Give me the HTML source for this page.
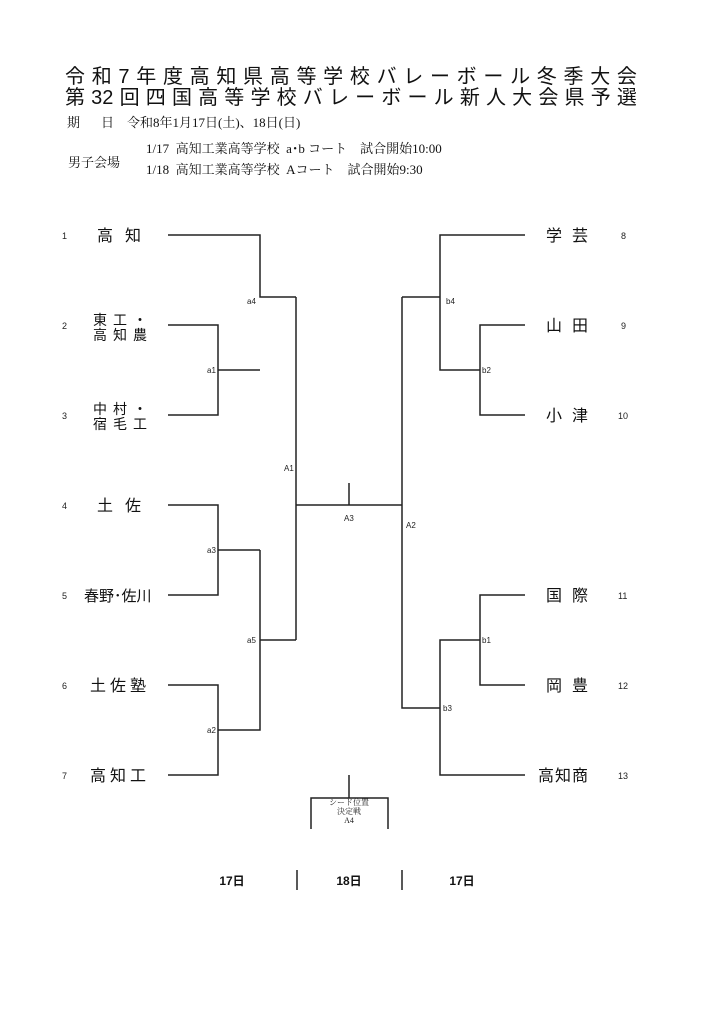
<!DOCTYPE html>
<html><head><meta charset="utf-8"><style>
body{margin:0;background:#fff;width:724px;height:1024px;position:relative;overflow:hidden;font-family:"Liberation Sans","Noto Sans CJK JP",sans-serif;color:#111}
.t{position:absolute;left:65px;width:572px;display:flex;justify-content:space-between;font-size:20px;line-height:22px;font-family:"Liberation Sans","Noto Sans CJK JP",sans-serif}
.s{position:absolute;font-family:"Liberation Serif","Noto Serif CJK SC",serif;font-size:13px;white-space:nowrap;line-height:15px}
</style></head><body>
<div class="t" style="top:66px"><span>令</span><span>和</span><span>7</span><span>年</span><span>度</span><span>高</span><span>知</span><span>県</span><span>高</span><span>等</span><span>学</span><span>校</span><span>バ</span><span>レ</span><span>ー</span><span>ボ</span><span>ー</span><span>ル</span><span>冬</span><span>季</span><span>大</span><span>会</span></div>
<div class="t" style="top:87px"><span>第</span><span>32</span><span>回</span><span>四</span><span>国</span><span>高</span><span>等</span><span>学</span><span>校</span><span>バ</span><span>レ</span><span>ー</span><span>ボ</span><span>ー</span><span>ル</span><span>新</span><span>人</span><span>大</span><span>会</span><span>県</span><span>予</span><span>選</span></div>
<div class="s" style="left:67px;top:115px">期</div>
<div class="s" style="left:101px;top:115px">日</div>
<div class="s" style="left:127px;top:115px">令和8年1月17日(土)、18日(日)</div>
<div class="s" style="left:68px;top:155px">男子会場</div>
<div class="s" style="left:146px;top:141px">1/17&nbsp; 高知工業高等学校&nbsp; a･b コート&nbsp;&nbsp;&nbsp; 試合開始10:00</div>
<div class="s" style="left:146px;top:162px">1/18&nbsp; 高知工業高等学校&nbsp; Aコート&nbsp;&nbsp;&nbsp; 試合開始9:30</div>
<svg width="724" height="1024" style="position:absolute;left:0;top:0" font-family="Liberation Sans, Noto Sans CJK JP, sans-serif">
<g stroke="#222" stroke-width="1.5" fill="none">
<path d="M168 235H260V297H296"/>
<path d="M168 325H218V415H168M218 370H260"/>
<path d="M168 505H218V595H168M218 550H260"/>
<path d="M168 685H218V775H168M218 730H260V550M260 640H296"/>
<path d="M296 297V640M296 505H402M349 483V505"/>
<path d="M525 235H440V370H480M525 325H480V415H525M440 297H402"/>
<path d="M525 595H480V685H525M480 640H440V775H525M440 708H402V297"/>
<path d="M349 775V798M311 829V798H388V829"/>
<path d="M297 870V890M402 870V890"/>
</g>
<g font-size="8" fill="#222">
<text x="247" y="304">a4</text><text x="207" y="373">a1</text><text x="207" y="553">a3</text>
<text x="247" y="643">a5</text><text x="207" y="733">a2</text><text x="284" y="471">A1</text>
<text x="344" y="521">A3</text><text x="406" y="528">A2</text><text x="446" y="304">b4</text>
<text x="482" y="373">b2</text><text x="482" y="643">b1</text><text x="443" y="711">b3</text>
<g font-size="9">
<text x="62" y="239">1</text><text x="62" y="329">2</text><text x="62" y="419">3</text><text x="62" y="509">4</text>
<text x="62" y="599">5</text><text x="62" y="689">6</text><text x="62" y="779">7</text>
<text x="621" y="239">8</text><text x="621" y="329">9</text><text x="618" y="419">10</text><text x="618" y="599">11</text>
<text x="618" y="689">12</text><text x="618" y="779">13</text></g>
</g>
<g font-size="16" fill="#111">
<text x="97" y="241" letter-spacing="12">高知</text>
<text x="93" y="325" font-size="14" letter-spacing="6">東工・</text>
<text x="93" y="340" font-size="14" letter-spacing="6">高知農</text>
<text x="93" y="414" font-size="14" letter-spacing="6">中村・</text>
<text x="93" y="429" font-size="14" letter-spacing="6">宿毛工</text>
<text x="97" y="511" letter-spacing="12">土佐</text>
<text x="84" y="601" font-size="15">春野･佐川</text>
<text x="90" y="691" letter-spacing="4">土佐塾</text>
<text x="90" y="781" letter-spacing="4">高知工</text>
<text x="546" y="241" letter-spacing="10">学芸</text>
<text x="546" y="331" letter-spacing="10">山田</text>
<text x="546" y="421" letter-spacing="10">小津</text>
<text x="546" y="601" letter-spacing="10">国際</text>
<text x="546" y="691" letter-spacing="10">岡豊</text>
<text x="538" y="781" letter-spacing="1">高知商</text>
</g>
<g font-family="Liberation Serif, Noto Serif CJK SC, serif" font-size="8" text-anchor="middle" fill="#222">
<text x="349" y="805">シード位置</text><text x="349" y="814">決定戦</text><text x="349" y="823">A4</text>
</g>
<g font-size="12" font-weight="bold" text-anchor="middle" fill="#111">
<text x="232" y="885">17日</text><text x="349" y="885">18日</text><text x="462" y="885">17日</text>
</g>
</svg>
</body></html>
